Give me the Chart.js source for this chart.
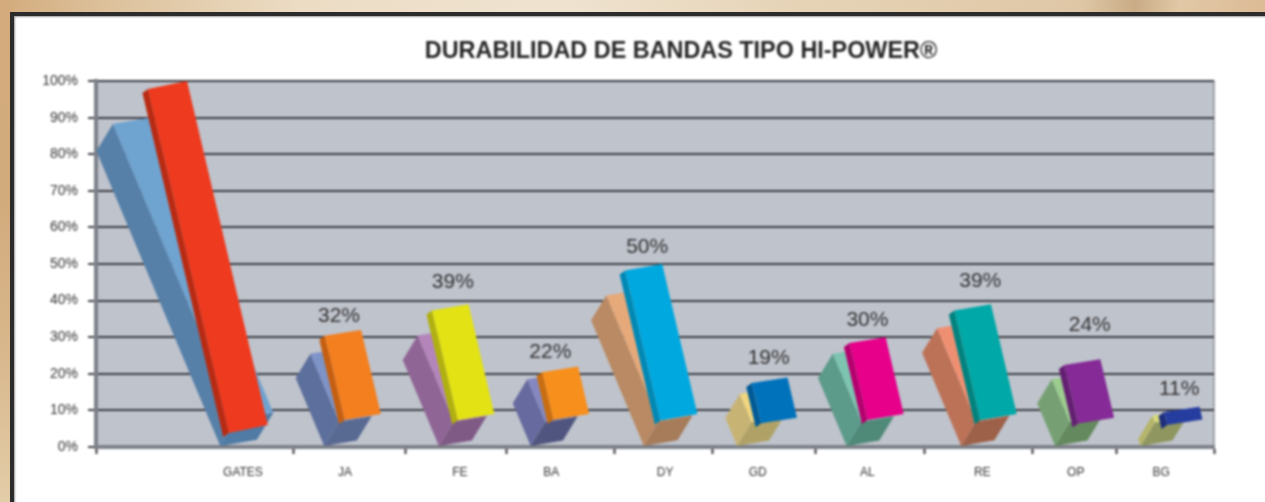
<!DOCTYPE html>
<html>
<head>
<meta charset="utf-8">
<title>Durabilidad de bandas</title>
<script src="https://cdn.jsdelivr.net/npm/chart.js@4"></script>
<style>
    html, body { margin: 0; width: 1265px; height: 502px; overflow: hidden; }
    body {
        position: relative;
        background: linear-gradient(to right, #d3ab7c 0, #dcc09a 100px, #ecdcc4 300px, #efe3d0 560px, #e6d3b6 800px, #dfc7a6 1080px, #c9ac86 1135px, #e2c8a6 1180px, #dcbb96 1265px);
    }
    #strip { position: absolute; left: 0; top: 0; width: 10px; height: 502px; background: linear-gradient(to bottom, #d3ab7c 0, #d2ab7c 200px, #d8b78c 350px, #e3cda8 502px); }
    #frame { position: absolute; left: 10px; top: 12px; width: 1265px; height: 500px; background: #fff; border: 4px solid #2c2c2c; box-shadow: inset 1px 1px 2px #999; }
    #wrap { position: absolute; left: 0; top: 0; width: 1265px; height: 502px; filter: blur(0.8px); }
</style>
</head>
<body>
<div id="strip"></div>
<div id="frame"></div>
<div id="wrap"><canvas id="js-chart" width="1265" height="502"></canvas></div>
<script>
var categories = ["GATES", "JA", "FE", "BA", "DY", "GD", "AL", "RE", "OP", "BG"];
var yTickLabels = ["0%", "10%", "20%", "30%", "40%", "50%", "60%", "70%", "80%", "90%", "100%"];
var backValues = [90, 27, 32, 20, 43, 16, 27, 34, 20, 10];
var frontValues = [100, 32, 39, 22, 50, 19, 30, 39, 24, 11];
var frontBase = [6, 9, 9, 9, 9, 8, 9, 9, 8, 7.5];
var frontLabels = ["", "32%", "39%", "22%", "50%", "19%", "30%", "39%", "24%", "11%"];

// the axis is not evenly spaced in the original, these are axis units (0 - 11)
var categorySlots = [1.446, 2.45, 3.58, 4.48, 5.6, 6.51, 7.59, 8.72, 9.64, 10.48];
var tickSlots = [0, 1.948, 3.05, 4.04, 5.1, 6.07, 7.08, 8.15, 9.21, 10.04, 11];

// colours: light / left side / bottom of the back boxes, face / side of the front boxes
var backLight = ["#6fa3d0", "#7e93c7", "#b385bb", "#8488c0", "#e6a97a", "#f0d67e", "#7dc5b0", "#ef8f72", "#9ccc8e", "#d8da7a"];
var backLeft = ["#5680a8", "#5d6f9c", "#8f6595", "#666a9e", "#b98a63", "#c7b474", "#5c9a8a", "#bc7257", "#76a073", "#b5b56a"];
var backBottom = ["#4f7ba5", "#586992", "#7f5a85", "#50557f", "#a67c5a", "#b0a266", "#4f8a78", "#9d6048", "#64895e", "#8f9660"];
var frontFace = ["#ee3a1e", "#f47f1f", "#e2e214", "#f78f1c", "#00a8e0", "#0072bc", "#e6008a", "#00a8a8", "#852a96", "#263da0"];
var frontSide = ["#b82a12", "#c55f10", "#b0b010", "#c86e10", "#0088b5", "#005a96", "#b5006e", "#00827f", "#641f72", "#1c2d7c"];

// hand placed value labels, pixels from the category slot / from the top of the bar
var labelOffsets = [[0, 0], [-6, -14], [-7, -22], [-1, -14], [-18, -17], [11, -19], [0, -17], [-2, -23], [14, -34], [18, -18]];

function poly(ctx, points, color) {
    ctx.fillStyle = color;
    ctx.beginPath();
    points.forEach(function (p, i) {
        if (i === 0) ctx.moveTo(p[0], p[1]); else ctx.lineTo(p[0], p[1]);
    });
    ctx.closePath();
    ctx.fill();
}

function add(p, dx, dy) {
    return [p[0] + dx, p[1] + dy];
}

function drawBackBox(ctx, bar, i) {
    var v = backValues[i];
    var s = 1 + v / 500;
    var V = [bar.x - 20 - v * 0.03, bar.base];
    var w = 31 * s;
    var R = add(V, w, -w * 0.17);
    var F = add(V, 14 * s, -23 * s);
    var FR = add(R, 14 * s, -23 * s);
    var hy = bar.y - FR[1];
    var hx = 0.42 * hy;
    poly(ctx, [V, F, add(F, hx, hy), add(V, hx, hy)], backLeft[i]);
    poly(ctx, [V, R, FR, F], backBottom[i]);
    poly(ctx, [F, FR, add(FR, hx, hy), add(F, hx, hy)], backLight[i]);
}

function drawFrontBox(ctx, bar, i) {
    var v = frontValues[i];
    var slant = 0.235;
    var BR = [bar.x + 50 - v * 0.2 - slant * (bar.scaleBottom - bar.base), bar.base];
    var W = 35 + v * 0.04;
    var BL = add(BR, -W, 5 + v * 0.03);
    var hy = bar.y - bar.base;
    var hx = slant * hy;
    var SL = add(BL, -5.5, 4);
    poly(ctx, [SL, BL, add(BL, hx, hy), add(SL, hx, hy)], frontSide[i]);
    poly(ctx, [BL, BR, add(BR, hx, hy), add(BL, hx, hy)], frontFace[i]);
}

var boxes3d = {
    id: "boxes3d",
    beforeDraw: function (chart) {
        var a = chart.chartArea;
        var ctx = chart.ctx;
        ctx.save();
        ctx.fillStyle = "#bfc3cc";
        ctx.fillRect(a.left, a.top, a.right - a.left, a.bottom - a.top);
        ctx.strokeStyle = "#8b8f97";
        ctx.lineWidth = 1.5;
        ctx.strokeRect(a.left, a.top, a.right - a.left, a.bottom - a.top);
        ctx.restore();
    },
    afterLayout: function (chart) {
        // title sits right of the plot centre in the original
        chart.titleBlock.left += 56;
        chart.titleBlock.right += 56;
    },
    beforeDatasetDraw: function (chart, args) {
        var ctx = chart.ctx;
        var bottom = chart.scales.y.getPixelForValue(0);
        ctx.save();
        args.meta.data.forEach(function (el, i) {
            var bar = { x: el.x, y: el.y, base: el.base, scaleBottom: bottom };
            if (args.index === 0) drawBackBox(ctx, bar, i); else drawFrontBox(ctx, bar, i);
        });
        ctx.restore();
        return false;
    },
    afterDatasetsDraw: function (chart) {
        var ctx = chart.ctx;
        var meta = chart.getDatasetMeta(1);
        ctx.save();
        ctx.font = "21px 'Liberation Sans'";
        ctx.fillStyle = "#333";
        ctx.textAlign = "center";
        ctx.textBaseline = "middle";
        meta.data.forEach(function (el, i) {
            if (frontLabels[i]) {
                ctx.fillText(frontLabels[i], el.x + labelOffsets[i][0], el.y + labelOffsets[i][1]);
            }
        });
        ctx.restore();
    }
};

var chart = new Chart(document.getElementById("js-chart"), {
    type: "bar",
    data: {
        datasets: [{
            label: "Back",
            order: 2,
            grouped: false,
            backgroundColor: backLight,
            data: categories.map(function (c, i) { return { x: categorySlots[i], y: backValues[i] }; })
        }, {
            label: "Front",
            order: 1,
            grouped: false,
            backgroundColor: frontFace,
            data: categories.map(function (c, i) { return { x: categorySlots[i], y: [frontBase[i], frontValues[i]] }; })
        }]
    },
    options: {
        responsive: false,
        animation: false,
        layout: { padding: { left: 36, right: 51, top: 0, bottom: 0 } },
        plugins: {
            legend: { display: false },
            tooltip: { enabled: false },
            title: {
                display: true,
                text: "DURABILIDAD DE BANDAS TIPO HI-POWER®",
                color: "#262626",
                font: { family: "'Liberation Sans'", size: 23.4, weight: "bold" },
                padding: { top: 38, bottom: 15 }
            }
        },
        scales: {
            x: {
                type: "linear",
                position: "bottom",
                weight: 1,
                min: 0,
                max: 11,
                offset: false,
                grid: { display: false },
                border: { display: false },
                afterBuildTicks: function (scale) {
                    scale.ticks = categorySlots.map(function (v) { return { value: v }; });
                },
                afterFit: function (scale) { scale.height = 47; },
                ticks: {
                    autoSkip: false,
                    maxRotation: 0,
                    padding: 2,
                    color: "#333",
                    font: { family: "'Liberation Sans'", size: 12 },
                    callback: function (v, i) { return categories[i]; }
                }
            },
            xTicks: {
                type: "linear",
                position: "bottom",
                weight: 0,
                min: 0,
                max: 11,
                offset: false,
                afterBuildTicks: function (scale) {
                    scale.ticks = tickSlots.map(function (v) { return { value: v }; });
                },
                afterFit: function (scale) { scale.height = 8; },
                grid: { offset: false, drawOnChartArea: false, drawTicks: true, tickLength: 7, tickWidth: 2, tickColor: "#333" },
                border: { color: "#7d8189", width: 4 },
                ticks: { display: false }
            },
            y: {
                type: "linear",
                min: 0,
                max: 100,
                afterFit: function (scale) { scale.width = 60; },
                grid: { color: "#3c3e44", lineWidth: 2, tickLength: 8 },
                border: { color: "#7d8189", width: 4 },
                ticks: {
                    stepSize: 10,
                    padding: 10,
                    color: "#333",
                    font: { family: "'Liberation Sans'", size: 14 },
                    callback: function (v) { return yTickLabels[v / 10]; }
                }
            }
        }
    },
    plugins: [boxes3d]
});
</script>
</body>
</html>
